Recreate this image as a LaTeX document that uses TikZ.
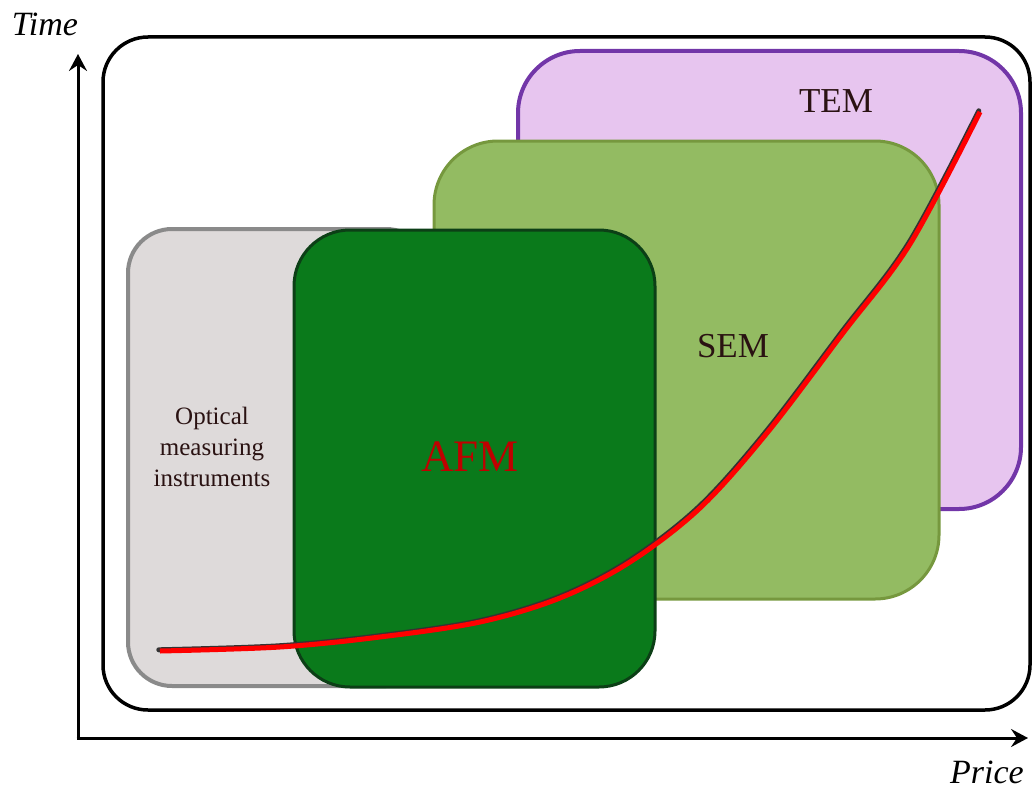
\documentclass[tikz,border=0pt]{standalone}
\usepackage{fontspec}
\setmainfont{Liberation Serif}
\usetikzlibrary{arrows.meta,calc}
\definecolor{temfill}{HTML}{E7C5EF}
\definecolor{temdraw}{HTML}{7236A8}
\definecolor{semfill}{HTML}{93BB62}
\definecolor{semdraw}{HTML}{76983E}
\definecolor{optfill}{HTML}{DEDADA}
\definecolor{optdraw}{HTML}{8A8A8A}
\definecolor{afmfill}{HTML}{0A7A1B}
\definecolor{afmdraw}{HTML}{0C3F16}
\definecolor{txt}{HTML}{2A1212}
\definecolor{afmtxt}{HTML}{C00000}
\tikzset{
  axisline/.style={line width=3pt, -{Stealth[length=17pt,width=18pt,inset=6pt]}},
  lbl/.style={inner sep=0pt, align=center, text=txt},
}
\newcommand{\curvepts}{(160,651) (280,647) (380,637) (480,622) (560,598) (630,562) (700,508) (767,433) (843,333) (910,244) (980,112)}
\begin{document}
\begin{tikzpicture}[x=1pt,y=-1pt]
\useasboundingbox (0,0) rectangle (1035,789);
% outer frame
\draw[line width=3.5pt, rounded corners=45pt] (103,37) rectangle (1030,710);
% axes
\coordinate (origin) at (78,738);
\coordinate (ytip) at (78,54);
\coordinate (xtip) at (1028,738);
\draw[axisline] (origin) -- (ytip);
\draw[axisline] ($(origin)+(-1.5,0)$) -- (xtip);
\node[lbl, font=\fontsize{34}{36}\selectfont\itshape, text=black] (time) at (45,24) {Time};
\node[lbl, font=\fontsize{34}{36}\selectfont\itshape, text=black] (price) at (987,772) {Price};
% TEM
\draw[fill=temfill, draw=temdraw, line width=4pt, rounded corners=62pt] (518,51) rectangle (1021,509);
% SEM
\draw[fill=semfill, draw=semdraw, line width=3pt, rounded corners=64pt] (434,141) rectangle (939,599);
% Optical
\draw[fill=optfill, draw=optdraw, line width=4pt, rounded corners=44pt] (128,229) rectangle (430,686);
% AFM
\draw[fill=afmfill, draw=afmdraw, line width=3pt, rounded corners=56pt] (294,230) rectangle (655,687);
% labels
\node[lbl, font=\fontsize{35}{37}\selectfont] (tem) at (836,101) {TEM};
\node[lbl, font=\fontsize{35}{37}\selectfont] (sem) at (733,346) {SEM};
\node[lbl, font=\fontsize{45}{47}\selectfont, text=afmtxt] (afm) at (470,457) {AFM};
\node[lbl, font=\fontsize{25}{31}\selectfont] (opt) at (212,447) {Optical\\measuring\\instruments};
% curve
\draw[black!80, line width=5pt, line cap=round, shift={(-1.2,-1.2)}] plot[smooth, tension=0.55] coordinates {\curvepts};
\draw[red, line width=5pt, line cap=butt] plot[smooth, tension=0.55] coordinates {\curvepts};
\end{tikzpicture}
\end{document}
